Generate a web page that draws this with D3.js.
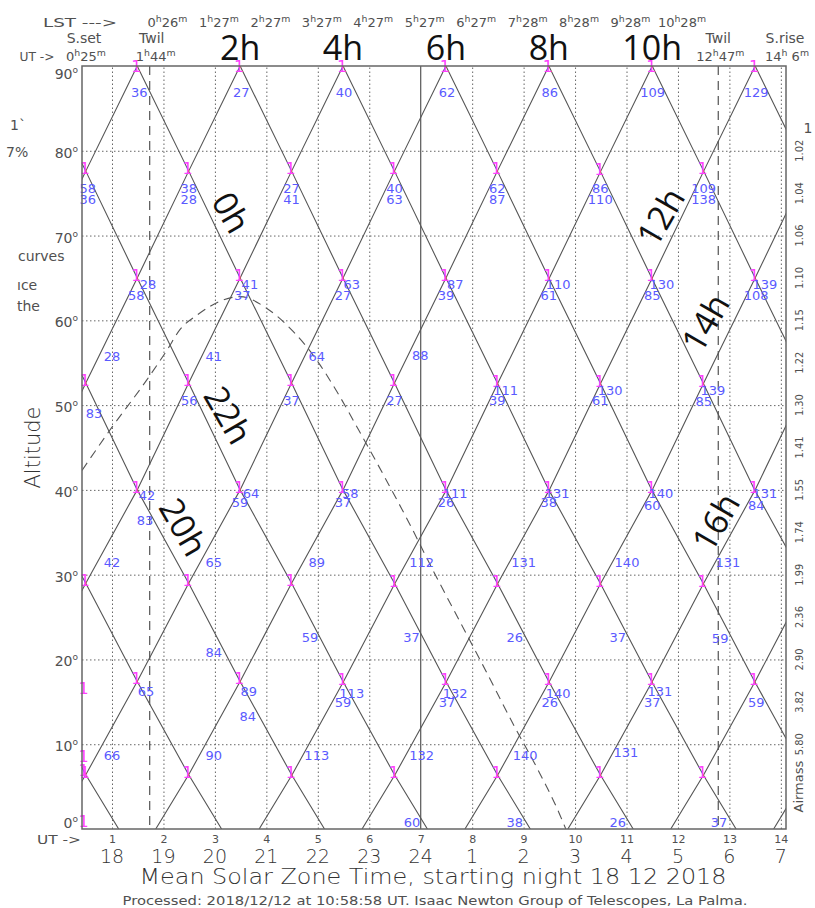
<!DOCTYPE html>
<html>
<head>
<meta charset="utf-8">
<script src="https://cdn.jsdelivr.net/npm/d3@7"></script>
<style>
  body { margin: 0; background: #fff; }
  svg { display: block; }
  text { font-family: "DejaVu Sans", sans-serif; }
  .thin { font-weight: 200; }
  .big { font-family: "Open Sans", sans-serif; font-weight: 400; }
</style>
</head>
<body>
<svg id="svg"></svg>
<script>
// night limits, UT hours
const sunsetUT = 0.4167, sunriseUT = 14.1;
const twilightUT = [1.733, 12.783];
const midnightUT = 7;

// one RA curve: altitude against hours from transit
const trackHA = [0, 1, 2, 3, 4, 5, 6, 7, 7.64];
const trackAlt = [90, 77.6, 65, 52.6, 40, 29, 17.4, 6.4, 0];
// transit time (UT) of each RA curve
const transitUT = [-6.51, -4.51, -2.51, -0.51, 1.49, 3.49, 5.49, 7.49, 9.49, 11.5, 13.5, 15.5, 17.5, 19.5, 21.5];

// moon altitude
const moonUT  = [0.417, 1.0, 1.68, 2.07, 2.32, 2.65, 3.16, 3.49, 4.01, 4.52, 4.98, 5.37, 5.8, 6.3, 6.8, 7.24, 7.82, 8.21, 8.83, 9.26, 9.71, 9.82];
const moonAlt = [42.3, 47.4, 53.0, 56.5, 58.9, 60.6, 62.4, 62.8, 61.4, 58.7, 55.3, 51.6, 47.0, 41.5, 35.8, 30.5, 23.8, 19.3, 12.0, 7.2, 1.6, 0];

// axes
const altTicks = [0, 10, 20, 30, 40, 50, 60, 70, 80, 90];
const utTicks = [1, 2, 3, 4, 5, 6, 7, 8, 9, 10, 11, 12, 13, 14];
const localTicks = [18, 19, 20, 21, 22, 23, 24, 1, 2, 3, 4, 5, 6, 7];
const airmassAlt = [80, 75, 70, 65, 60, 55, 50, 45, 40, 35, 30, 25, 20, 15, 10];
const airmassLabels = ["1.02", "1.04", "1.06", "1.10", "1.15", "1.22", "1.30", "1.41", "1.55", "1.74", "1.99", "2.36", "2.90", "3.82", "5.80"];
const lstUT = [2, 3, 4, 5, 6, 7, 8, 9, 10, 11, 12];
const lstLabels = ["0h26m", "1h27m", "2h27m", "3h27m", "4h27m", "5h27m", "6h27m", "7h28m", "8h28m", "9h28m", "10h28m"];

// RA names
const topRaUT = [3.49, 5.49, 7.49, 9.49, 11.5];
const topRaLabels = ["2h", "4h", "6h", "8h", "10h"];
const sideRaLabels = ["0h", "22h", "20h", "12h", "14h", "16h"];
const sideRaUT = [3.31, 3.25, 2.38, 11.67, 12.54, 12.74];
const sideRaAlt = [72.7, 48.8, 35.6, 72.2, 59.7, 36.2];
const sideRaAngle = [60, 60, 60, -60, -60, -60];

// magenta marks on the left edge
const leftMarkAlt = [16.3, 8.2, 6.6, 0.6];

// blue numbers [UT, altitude, text]
const distLabels = [
  [1.53, 86.9, "36"], [3.51, 86.9, "27"], [5.51, 86.9, "40"], [7.51, 86.9, "62"],
  [9.51, 86.9, "86"], [11.51, 86.9, "109"], [13.52, 86.9, "129"],
  [0.53, 75.6, "58"], [0.53, 74.3, "36"], [2.49, 75.6, "38"], [2.49, 74.3, "28"],
  [4.49, 75.6, "27"], [4.49, 74.3, "41"], [6.49, 75.6, "40"], [6.49, 74.3, "63"],
  [8.49, 75.6, "62"], [8.49, 74.3, "87"], [10.49, 75.6, "86"], [10.49, 74.3, "110"],
  [12.50, 75.6, "109"], [12.50, 74.3, "138"],
  [1.70, 64.2, "28"], [1.47, 62.9, "58"], [3.68, 64.2, "41"], [3.53, 62.9, "37"],
  [5.66, 64.2, "63"], [5.49, 62.9, "27"], [7.67, 64.2, "87"], [7.49, 62.9, "39"],
  [9.67, 64.2, "110"], [9.49, 62.9, "61"], [11.69, 64.2, "130"], [11.50, 62.9, "85"],
  [13.69, 64.2, "139"], [13.52, 62.9, "108"],
  [1.00, 55.7, "28"], [2.98, 55.7, "41"], [4.98, 55.7, "64"], [6.99, 55.9, "88"],
  [0.65, 49.0, "83"],
  [2.50, 50.6, "56"], [4.49, 50.6, "37"], [6.49, 50.6, "27"], [8.49, 50.6, "39"], [8.65, 51.8, "111"],
  [10.49, 50.6, "61"], [10.68, 51.8, "130"], [12.50, 50.4, "85"], [12.68, 51.8, "139"],
  [1.68, 39.4, "42"], [1.64, 36.4, "83"], [3.70, 39.6, "64"], [3.49, 38.5, "59"],
  [5.63, 39.6, "58"], [5.49, 38.5, "37"], [7.67, 39.6, "111"], [7.49, 38.5, "26"],
  [9.65, 39.6, "131"], [9.49, 38.5, "38"], [11.67, 39.6, "140"], [11.50, 38.2, "60"],
  [13.69, 39.6, "131"], [13.52, 38.2, "84"],
  [1.00, 31.4, "42"], [2.98, 31.4, "65"], [4.98, 31.4, "89"], [7.02, 31.5, "112"],
  [9.00, 31.5, "131"], [11.01, 31.5, "140"], [12.97, 31.5, "131"],
  [4.85, 22.6, "59"], [6.82, 22.6, "37"], [8.83, 22.6, "26"], [10.83, 22.6, "37"], [12.82, 22.5, "59"],
  [2.98, 20.8, "84"],
  [1.66, 16.2, "65"], [3.66, 16.2, "89"], [3.64, 13.3, "84"], [5.66, 16.0, "113"], [5.49, 15.0, "59"],
  [7.67, 16.0, "132"], [7.51, 15.0, "37"], [9.67, 16.0, "140"], [9.51, 15.0, "26"],
  [11.65, 16.2, "131"], [11.50, 15.0, "37"], [13.52, 15.0, "59"],
  [1.00, 8.7, "66"], [2.98, 8.7, "90"], [4.98, 8.7, "113"], [7.02, 8.7, "132"], [9.03, 8.7, "140"], [10.99, 9.0, "131"],
  [6.83, 0.8, "60"], [8.83, 0.8, "38"], [10.83, 0.8, "26"], [12.80, 0.8, "37"]
];

const width = 815, height = 908;
const plotL = 82, plotR = 786, plotT = 66, plotB = 829;
const grey = "#555", textGrey = "#505050", blue = "#5a5aff", magenta = "#ff40ff";

const svg = d3.select("#svg").attr("width", width).attr("height", height);

const x = d3.scaleLinear().domain([sunsetUT, sunriseUT]).range([plotL, plotR]);
const y = d3.scaleLinear().domain([0, 90]).range([plotB, plotT]);
const haToAlt = d3.scaleLinear().domain(trackHA).range(trackAlt).clamp(true);

svg.append("defs").append("clipPath").attr("id", "plot")
  .append("rect").attr("x", plotL).attr("y", plotT)
  .attr("width", plotR - plotL).attr("height", plotB - plotT);

// grid lines
const gx = svg.append("g").attr("transform", `translate(0,${plotB})`)
  .call(d3.axisBottom(x).tickValues(utTicks.filter(d => d !== midnightUT))
    .tickSize(-(plotB - plotT)).tickFormat(""));
gx.select(".domain").remove();
gx.selectAll("line").attr("stroke", "#666").attr("stroke-dasharray", "1.5,2.5");

const gy = svg.append("g").attr("transform", `translate(${plotL},0)`)
  .call(d3.axisLeft(y).tickValues(altTicks.filter(d => d > 0 && d < 90))
    .tickSize(-(plotR - plotL)).tickFormat(""));
gy.select(".domain").remove();
gy.selectAll("line").attr("stroke", "#666").attr("stroke-dasharray", "1.5,2.5");

// midnight and twilight
svg.append("line")
  .attr("x1", x(midnightUT)).attr("x2", x(midnightUT))
  .attr("y1", plotT).attr("y2", plotB)
  .attr("stroke", grey).attr("stroke-width", 1.2);

svg.selectAll(".twil").data(twilightUT).enter().append("line")
  .attr("x1", d => x(d)).attr("x2", d => x(d))
  .attr("y1", plotT).attr("y2", plotB)
  .attr("stroke", "#444").attr("stroke-width", 1.1)
  .attr("stroke-dasharray", "9,6");

const plot = svg.append("g").attr("clip-path", "url(#plot)");

// RA curves
const line = d3.line().x(d => x(d[0])).y(d => y(d[1]));
transitUT.forEach(t => {
  const n = trackHA.length;
  const pts = trackHA.slice().reverse().map((h, i) => [t - h, trackAlt[n - 1 - i]])
    .concat(trackHA.slice(1).map((h, i) => [t + h, trackAlt[i + 1]]));
  plot.append("path").attr("d", line(pts))
    .attr("fill", "none").attr("stroke", grey).attr("stroke-width", 1.1);
});

// moon
const moonLine = d3.line().x(d => x(d[0])).y(d => y(d[1])).curve(d3.curveMonotoneX);
plot.append("path").attr("d", moonLine(moonUT.map((u, i) => [u, moonAlt[i]])))
  .attr("fill", "none").attr("stroke", grey).attr("stroke-width", 1.1)
  .attr("stroke-dasharray", "9,6");

// magenta marks at transits and crossings
const marks = [];
transitUT.forEach(t => marks.push([t, 90]));
for (let i = 0; i < transitUT.length; i++) {
  for (let j = i + 1; j < transitUT.length; j++) {
    const ha = (transitUT[j] - transitUT[i]) / 2;
    if (ha <= 7.2) marks.push([(transitUT[i] + transitUT[j]) / 2, haToAlt(ha)]);
  }
}
leftMarkAlt.forEach(a => marks.push([sunsetUT + 0.05, a]));
svg.append("g").selectAll("text")
  .data(marks.filter(d => d[0] >= sunsetUT && d[0] <= sunriseUT))
  .enter().append("text")
  .attr("x", d => x(d[0]) - 1)
  .attr("y", d => d[1] === 90 ? y(d[1]) + 6 : y(d[1]) + 3)
  .attr("text-anchor", "middle")
  .attr("font-size", 16).attr("fill", magenta)
  .text("1");

// blue numbers
svg.append("g").selectAll("text").data(distLabels).enter().append("text")
  .attr("x", d => x(d[0])).attr("y", d => y(d[1]))
  .attr("dy", "0.36em").attr("text-anchor", "middle")
  .attr("font-size", 13).attr("fill", blue)
  .text(d => d[2]);

// frame
svg.append("rect").attr("x", plotL).attr("y", plotT)
  .attr("width", plotR - plotL).attr("height", plotB - plotT)
  .attr("fill", "none").attr("stroke", "#666").attr("stroke-width", 1.5);

// altitude labels
const yl = svg.append("g").selectAll("text").data(altTicks).enter().append("text")
  .attr("x", plotL - 4)
  .attr("y", d => Math.min(828, Math.max(79, y(d) + 7)))
  .attr("text-anchor", "end").attr("font-size", 14).attr("fill", textGrey);
yl.append("tspan").text(d => d);
yl.append("tspan").attr("font-size", 9).attr("dy", -6).text("o");

svg.append("text").attr("class", "thin")
  .attr("transform", `translate(40,${y(45)}) rotate(-90)`)
  .attr("text-anchor", "middle").attr("font-size", 21).attr("fill", "#333")
  .text("Altitude");

// airmass labels
svg.append("g").selectAll("text").data(airmassAlt).enter().append("text")
  .attr("transform", d => `translate(803,${y(d)}) rotate(-90)`)
  .attr("text-anchor", "middle").attr("font-size", 11).attr("fill", textGrey)
  .attr("textLength", 22).attr("lengthAdjust", "spacingAndGlyphs")
  .text((d, i) => airmassLabels[i]);
svg.append("text")
  .attr("transform", `translate(803,${y(5)}) rotate(-90)`)
  .attr("text-anchor", "middle").attr("font-size", 13).attr("fill", textGrey)
  .text("Airmass");
svg.append("text").attr("x", 808).attr("y", 133).attr("text-anchor", "middle")
  .attr("font-size", 14).attr("fill", textGrey).text("1");

// bottom axis
const bx = svg.append("g").attr("transform", `translate(0,${plotB})`)
  .call(d3.axisBottom(x).tickValues(utTicks).tickSize(0).tickPadding(6));
bx.select(".domain").remove();
bx.selectAll("text").attr("font-size", 11).attr("fill", textGrey)
  .attr("font-family", "DejaVu Sans, sans-serif");

svg.append("g").selectAll("text").data(utTicks).enter().append("text")
  .attr("class", "thin")
  .attr("x", d => x(d)).attr("y", 863)
  .attr("text-anchor", "middle").attr("font-size", 19).attr("fill", "#333")
  .text((d, i) => localTicks[i]);

svg.append("text").attr("x", 59).attr("y", 844).attr("text-anchor", "middle")
  .attr("font-size", 12).attr("fill", textGrey)
  .attr("textLength", 44).attr("lengthAdjust", "spacingAndGlyphs").text("UT ->");

svg.append("text").attr("class", "thin").attr("x", 433).attr("y", 884).attr("text-anchor", "middle")
  .attr("font-size", 22).attr("fill", "#333")
  .attr("textLength", 587).attr("lengthAdjust", "spacingAndGlyphs")
  .text("Mean Solar Zone Time, starting night 18 12 2018");

svg.append("text").attr("x", 435).attr("y", 905).attr("text-anchor", "middle")
  .attr("font-size", 12).attr("fill", textGrey)
  .attr("textLength", 625).attr("lengthAdjust", "spacingAndGlyphs")
  .text("Processed: 2018/12/12 at 10:58:58 UT. Isaac  Newton Group of Telescopes, La Palma.");

// header with h/m superscripts
function hm(sel, label, fs) {
  const m = label.match(/^(\d+)h(\s?)(\d+)m$/);
  sel.append("tspan").text(m[1]);
  sel.append("tspan").attr("font-size", fs * 0.72).attr("dy", -fs * 0.42).text("h");
  sel.append("tspan").attr("font-size", fs).attr("dy", fs * 0.42).text(m[2] + m[3]);
  sel.append("tspan").attr("font-size", fs * 0.72).attr("dy", -fs * 0.42).text("m");
}

svg.append("text").attr("x", 80).attr("y", 27).attr("text-anchor", "middle")
  .attr("font-size", 13).attr("fill", textGrey)
  .attr("textLength", 74).attr("lengthAdjust", "spacingAndGlyphs").text("LST --->");
lstUT.forEach((u, i) => {
  const t = svg.append("text").attr("x", x(u) + 4).attr("y", 27)
    .attr("text-anchor", "middle").attr("font-size", 13).attr("fill", textGrey);
  hm(t, lstLabels[i], 13);
});

const nightLabels = ["S.set", "Twil", "Twil", "S.rise"];
const nightTimes = ["0h25m", "1h44m", "12h47m", "14h 6m"];
[sunsetUT, twilightUT[0], twilightUT[1], sunriseUT].forEach((u, i) => {
  const cx = Math.min(785, Math.max(84, x(u) + (i === 1 ? 2 : 0)));
  svg.append("text").attr("x", cx).attr("y", 43).attr("text-anchor", "middle")
    .attr("font-size", 14).attr("fill", textGrey).text(nightLabels[i]);
  const t = svg.append("text").attr("x", cx + (i === 1 ? 4 : 2)).attr("y", 61)
    .attr("text-anchor", "middle").attr("font-size", 13).attr("fill", textGrey);
  hm(t, nightTimes[i], 13);
});
svg.append("text").attr("x", 37).attr("y", 61).attr("text-anchor", "middle")
  .attr("font-size", 13).attr("fill", textGrey)
  .attr("textLength", 35).attr("lengthAdjust", "spacingAndGlyphs").text("UT ->");

// big RA names
svg.append("g").selectAll("text").data(topRaUT).enter().append("text")
  .attr("class", "big")
  .attr("x", d => x(d)).attr("y", 60).attr("text-anchor", "middle")
  .attr("font-size", 34).attr("fill", "#111")
  .text((d, i) => topRaLabels[i]);

svg.append("g").selectAll("text").data(sideRaUT).enter().append("text")
  .attr("class", "big")
  .attr("transform", (d, i) => `translate(${x(d)},${y(sideRaAlt[i])}) rotate(${sideRaAngle[i]})`)
  .attr("dy", "0.35em").attr("text-anchor", "middle")
  .attr("font-size", 34).attr("fill", "#111")
  .text((d, i) => sideRaLabels[i]);

// clipped legend fragments at the left edge
const edgeText = ["1`", "7%", "curves", "\u0131ce", "the"];
const edgeY = [130, 157, 261, 290, 311];
const edgeX = [10, 6, 18, 17, 17];
edgeText.forEach((s, i) => {
  svg.append("text").attr("x", edgeX[i]).attr("y", edgeY[i])
    .attr("font-size", 14).attr("fill", textGrey).text(s);
});
</script>
</body>
</html>
